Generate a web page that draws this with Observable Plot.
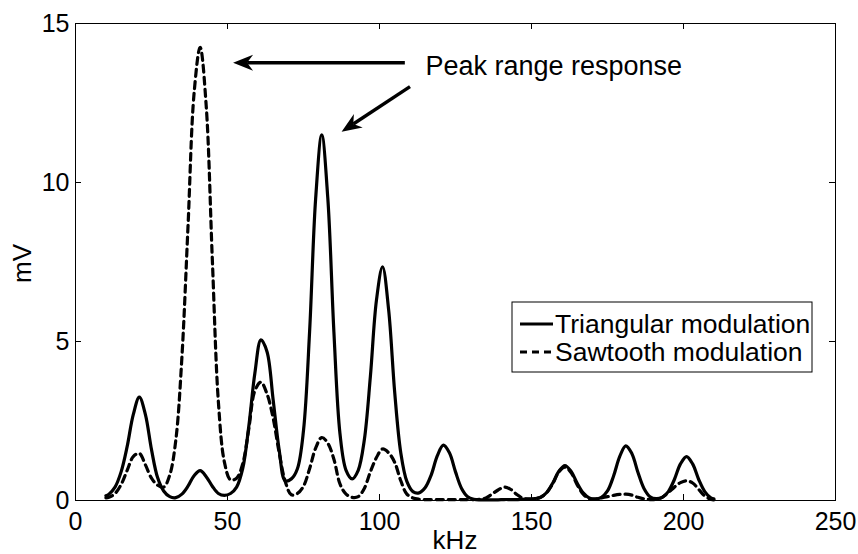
<!DOCTYPE html>
<html>
<head>
<meta charset="utf-8">
<script src="https://cdn.jsdelivr.net/npm/d3@7"></script>
<script src="https://cdn.jsdelivr.net/npm/@observablehq/plot@0.6"></script>
<style>
  html, body { margin: 0; padding: 0; background: #fff; }
  svg { display: block; }
</style>
</head>
<body>
<div id="chart"></div>
<script>
// Frequency samples (kHz)
const freq = [10,
  11, 13, 15, 17, 19, 21, 23, 25, 27, 29,
  31, 33, 35, 37, 39, 41, 43, 45, 47, 49,
  51, 53, 55, 57, 59, 61, 63, 65, 67, 69,
  71, 73, 75, 77, 79, 81, 83, 85, 87, 89,
  91, 93, 95, 97, 99, 101, 103, 105, 107, 109,
  111, 113, 115, 117, 119, 121, 123, 125, 127, 129,
  131, 133, 135, 137, 139, 141, 143, 145, 147, 149,
  151, 153, 155, 157, 159, 161, 163, 165, 167, 169,
  171, 173, 175, 177, 179, 181, 183, 185, 187, 189,
  191, 193, 195, 197, 199, 201, 203, 205, 207, 209,
  210];

// Triangular modulation (mV)
const triangular = [0.15,
  0.2, 0.42, 0.9, 1.7, 2.7, 3.25, 2.7, 1.6, 0.72, 0.3,
  0.12, 0.09, 0.2, 0.45, 0.78, 0.94, 0.75, 0.45, 0.22, 0.16,
  0.22, 0.42, 1.0, 2.33, 4.0, 5.05, 4.68, 3.18, 1.59, 0.62,
  0.68, 1.0, 2.2, 5.3, 9.5, 11.5, 9.5, 5.3, 2.1, 0.95,
  0.68, 0.95, 1.9, 3.9, 6.3, 7.35, 6.0, 3.4, 1.5, 0.6,
  0.28, 0.24, 0.4, 0.8, 1.4, 1.74, 1.5, 0.9, 0.38, 0.12,
  0.04, 0.02, 0.02, 0.02, 0.02, 0.03, 0.03, 0.03, 0.04, 0.05,
  0.06, 0.1, 0.25, 0.55, 0.92, 1.1, 0.92, 0.55, 0.24, 0.08,
  0.05, 0.1, 0.3, 0.77, 1.38, 1.72, 1.48, 0.89, 0.38, 0.12,
  0.06, 0.1, 0.28, 0.66, 1.15, 1.38, 1.15, 0.66, 0.28, 0.08,
  0.05];

// Sawtooth modulation (mV)
const sawtooth = [0.08,
  0.1, 0.22, 0.5, 0.95, 1.38, 1.48, 1.12, 0.7, 0.48, 0.42,
  0.8, 1.9, 4.5, 8.6, 12.8, 14.25, 12.4, 7.6, 3.1, 1.2,
  0.65, 0.7, 1.15, 2.25, 3.45, 3.72, 3.35, 2.6, 1.5, 0.6,
  0.18, 0.22, 0.45, 1.0, 1.65, 1.98, 1.8, 1.3, 0.52, 0.2,
  0.1, 0.12, 0.38, 0.9, 1.35, 1.62, 1.5, 1.2, 0.62, 0.2,
  0.08, 0.04, 0.03, 0.03, 0.03, 0.03, 0.03, 0.03, 0.03, 0.03,
  0.03, 0.04, 0.08, 0.2, 0.33, 0.42, 0.36, 0.2, 0.08, 0.04,
  0.05, 0.1, 0.25, 0.53, 0.9, 1.05, 0.88, 0.5, 0.2, 0.06,
  0.04, 0.08, 0.12, 0.16, 0.19, 0.2, 0.17, 0.1, 0.05, 0.03,
  0.04, 0.1, 0.25, 0.42, 0.56, 0.62, 0.55, 0.35, 0.14, 0.04,
  0.02];

const xTicks = [0, 50, 100, 150, 200, 250];
const yTicks = [0, 5, 10, 15];
const seriesNames = ["Triangular modulation", "Sawtooth modulation"];
const xLabel = "kHz";
const yLabel = "mV";

// Annotation: "Peak range response" with two arrows (data coordinates)
const annotationText = ["Peak range response"];
const annotationX = [115.1];
const annotationY = [13.64];
const arrowFromX = [108.5, 110.2];
const arrowFromY = [13.75, 13.0];
const arrowToX = [52.0, 87.7];
const arrowToY = [13.75, 11.58];

const triData = freq.map((f, i) => ({f, v: triangular[i]}));
const sawData = freq.map((f, i) => ({f, v: sawtooth[i]}));
const arrows = arrowFromX.map((x, i) => ({x1: x, y1: arrowFromY[i], x2: arrowToX[i], y2: arrowToY[i]}));
const notes = annotationText.map((t, i) => ({t, x: annotationX[i], y: annotationY[i]}));

const W = 858, H = 554;
const mL = 75, mR = 23, mT = 23, mB = 54;
const pw = W - mL - mR, ph = H - mT - mB;
const tk = 6;
const FONT = "'Liberation Sans', Arial, Helvetica, sans-serif";

const chart = Plot.plot({
  width: W, height: H,
  marginLeft: mL, marginRight: mR, marginTop: mT, marginBottom: mB,
  style: {fontFamily: FONT, fontSize: "25px", background: "white", color: "black"},
  x: {domain: [0, 250]},
  y: {domain: [0, 15]},
  marks: [
    Plot.axisX(xTicks, {tickSize: 0, tickPadding: 12, fontSize: 25, label: null}),
    Plot.axisY(yTicks, {tickSize: 0, tickPadding: 6, fontSize: 25, label: null}),
    Plot.tickX(xTicks, {x: d => d, insetTop: ph - tk, stroke: "black", strokeWidth: 1}),
    Plot.tickX(xTicks, {x: d => d, insetBottom: ph - tk, stroke: "black", strokeWidth: 1}),
    Plot.tickY(yTicks, {y: d => d, insetRight: pw - tk, stroke: "black", strokeWidth: 1}),
    Plot.tickY(yTicks, {y: d => d, insetLeft: pw - tk, stroke: "black", strokeWidth: 1}),
    Plot.line(sawData, {x: "f", y: "v", stroke: "black", strokeWidth: 3.2, strokeDasharray: "7,5", curve: "catmull-rom"}),
    Plot.line(triData, {x: "f", y: "v", stroke: "black", strokeWidth: 3.2, curve: "catmull-rom"}),
    Plot.text(notes, {x: "x", y: "y", text: "t", textAnchor: "start", lineAnchor: "middle", fontSize: 27, fill: "black"}),
    Plot.frame({stroke: "black", strokeWidth: 1})
  ]
});

const svg = d3.select(chart);
svg.attr("font-family", FONT);
const sx = chart.scale("x"), sy = chart.scale("y");

// Arrows: shaft + filled arrowhead, positioned through the plot scales
const ag = svg.append("g");
arrows.forEach(a => {
  const X1 = sx.apply(a.x1), Y1 = sy.apply(a.y1), X2 = sx.apply(a.x2), Y2 = sy.apply(a.y2);
  const dx = X2 - X1, dy = Y2 - Y1, len = Math.hypot(dx, dy);
  const ux = dx / len, uy = dy / len, nx = -uy, ny = ux;
  const L = 20, w = 8, notch = 14;
  ag.append("line")
    .attr("x1", X1).attr("y1", Y1)
    .attr("x2", X2 - ux * notch).attr("y2", Y2 - uy * notch)
    .attr("stroke", "black").attr("stroke-width", 3.4);
  const pts = [
    [X2, Y2],
    [X2 - ux * L + nx * w, Y2 - uy * L + ny * w],
    [X2 - ux * notch, Y2 - uy * notch],
    [X2 - ux * L - nx * w, Y2 - uy * L - ny * w]
  ];
  ag.append("polygon").attr("points", pts.map(p => p.join(",")).join(" ")).attr("fill", "black");
});

// Axis titles
svg.append("text")
  .attr("x", mL + pw / 2).attr("y", 549)
  .attr("text-anchor", "middle")
  .attr("font-size", 26).attr("fill", "black")
  .text(xLabel);
svg.append("text")
  .attr("transform", `translate(31, ${mT + ph / 2 + 2}) rotate(-90)`)
  .attr("text-anchor", "middle")
  .attr("font-size", 26).attr("fill", "black")
  .text(yLabel);

// Legend
const lg = svg.append("g");
const lx = 512, ly = 302, lw = 300, lh = 70;
lg.append("rect").attr("x", lx).attr("y", ly).attr("width", lw).attr("height", lh)
  .attr("fill", "white").attr("stroke", "black").attr("stroke-width", 1);
const rows = [ly + 22, ly + 50];
seriesNames.forEach((name, i) => {
  lg.append("line")
    .attr("x1", lx + 8).attr("x2", lx + 41)
    .attr("y1", rows[i]).attr("y2", rows[i])
    .attr("stroke", "black").attr("stroke-width", 3)
    .attr("stroke-dasharray", i === 1 ? "7,5" : null);
  lg.append("text")
    .attr("x", lx + 43).attr("y", rows[i])
    .attr("dy", "0.35em")
    .attr("text-anchor", "start")
    .attr("font-size", 26.5).attr("fill", "black")
    .text(name);
});

document.getElementById("chart").appendChild(chart);
</script>
</body>
</html>
